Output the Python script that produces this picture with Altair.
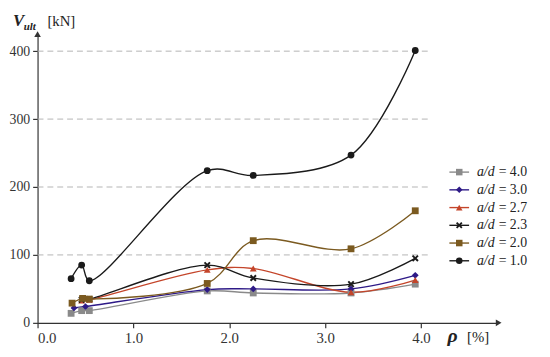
import altair as alt
import pandas as pd

# ---- data ----
series = ["a/d = 4.0", "a/d = 3.0", "a/d = 2.7", "a/d = 2.3", "a/d = 2.0", "a/d = 1.0"]
series_value = ["= 4.0", "= 3.0", "= 2.7", "= 2.3", "= 2.0", "= 1.0"]

rho_40 = [0.35, 0.46, 0.54, 1.77, 2.25, 3.27, 3.94]
v_40 = [14, 18, 18, 47, 44, 44, 57]
rho_30 = [0.38, 0.50, 1.77, 2.25, 3.27, 3.94]
v_30 = [22, 24, 49, 50, 50, 70]
rho_27 = [0.46, 0.54, 1.77, 2.25, 3.27, 3.94]
v_27 = [33, 34, 78, 80, 45, 63]
rho_23 = [0.46, 0.54, 1.77, 2.25, 3.27, 3.94]
v_23 = [34, 35, 85, 66, 57, 95]
rho_20 = [0.36, 0.47, 0.54, 1.77, 2.25, 3.27, 3.94]
v_20 = [29, 36, 35, 58, 121, 109, 165]
rho_10 = [0.35, 0.46, 0.54, 1.77, 2.25, 3.27, 3.94]
v_10 = [65, 85, 62, 224, 217, 247, 401]

x_ticks = [0, 1, 2, 3, 4]
y_ticks = [0, 100, 200, 300, 400]
grid_values = [100, 200, 300, 400]

# ---- styles ----
colors = ["#8a8a8a", "#2e1a87", "#c4452a", "#1a1a1a", "#7b5a20", "#1a1a1a"]
X_PATH = ("M-1,-0.6L-0.6,-1L0,-0.4L0.6,-1L1,-0.6L0.4,0L1,0.6L0.6,1L0,0.4"
          "L-0.6,1L-1,0.6L-0.4,0Z")
shapes = ["square", "diamond", "triangle-up", X_PATH, "square", "circle"]
FONT = "Liberation Serif"

X_MAX, Y_MAX = 4.81, 425
W, H = 468, 293

rows = []
for s, xs, ys in zip(series,
                     [rho_40, rho_30, rho_27, rho_23, rho_20, rho_10],
                     [v_40, v_30, v_27, v_23, v_20, v_10]):
    for x, y in zip(xs, ys):
        rows.append({"series": s, "rho": x, "V": y})
df = pd.DataFrame(rows)

x_scale = alt.Scale(domain=[0, X_MAX], nice=False, zero=True)
y_scale = alt.Scale(domain=[0, Y_MAX], nice=False, zero=True)
color_scale = alt.Scale(domain=series, range=colors)
shape_scale = alt.Scale(domain=series, range=shapes)

x_axis = alt.Axis(values=x_ticks, format=".1f", grid=False, title=None,
                  domainColor="#333", domainWidth=1.2, tickColor="#333",
                  tickWidth=1.2, tickSize=5, labelFont=FONT, labelFontSize=15,
                  labelColor="#333", labelPadding=3)
y_axis = alt.Axis(values=y_ticks, grid=False, title=None,
                  domainColor="#333", domainWidth=1.2, tickColor="#333",
                  tickWidth=1.2, tickSize=5, labelFont=FONT, labelFontSize=14,
                  labelColor="#333", labelPadding=3)

grid = alt.Chart(pd.DataFrame({"v": grid_values})).mark_rule(
    color="#b4b4b4", strokeDash=[6, 4], strokeWidth=1
).encode(
    y=alt.Y("v:Q", scale=y_scale, axis=y_axis),
    x=alt.X(datum=0, scale=x_scale, axis=x_axis),
    x2=alt.X2(datum=4.1),
)

lines = alt.Chart(df).mark_line(interpolate="catmull-rom", strokeWidth=1.4).encode(
    x=alt.X("rho:Q", scale=x_scale, axis=x_axis),
    y=alt.Y("V:Q", scale=y_scale, axis=y_axis),
    color=alt.Color("series:N", scale=color_scale, legend=None),
    detail="series:N",
)

points = alt.Chart(df).mark_point(filled=True, size=48, opacity=1).encode(
    x=alt.X("rho:Q", scale=x_scale, axis=x_axis),
    y=alt.Y("V:Q", scale=y_scale, axis=y_axis),
    color=alt.Color("series:N", scale=color_scale, legend=None),
    shape=alt.Shape("series:N", scale=shape_scale, legend=None),
)

dummy = pd.DataFrame({"d": [0]})
arrow_x = alt.Chart(dummy).mark_point(shape="triangle-right", filled=True,
                                       size=45, color="#333", opacity=1).encode(
    x=alt.X(datum=X_MAX, scale=x_scale, axis=x_axis),
    y=alt.Y(datum=0, scale=y_scale, axis=y_axis),
)
arrow_y = alt.Chart(dummy).mark_point(shape="triangle-up", filled=True,
                                       size=45, color="#333", opacity=1).encode(
    x=alt.X(datum=0, scale=x_scale, axis=x_axis),
    y=alt.Y(datum=Y_MAX, scale=y_scale, axis=y_axis),
)


def label(txt, x, y, size, style="normal", weight="normal", align="left"):
    return alt.Chart(dummy).mark_text(
        text=txt, font=FONT, fontSize=size, fontStyle=style, fontWeight=weight,
        align=align, baseline="alphabetic", color="#222"
    ).encode(x=alt.value(x), y=alt.value(y))


titles = [
    label("V", -25, -8, 17, "italic", "bold"),
    label("ult", -14, -4, 11, "italic", "bold"),
    label("[kN]", 10, -8, 15),
    label("ρ", 416, 312, 20, "italic", "bold"),
    label("[%]", 436, 312, 15),
]

main = alt.layer(grid, lines, points, arrow_x, arrow_y, *titles)

# ---- legend (built from the series lists) ----
leg = pd.DataFrame({"series": series, "pos": list(range(len(series))),
                    "val": series_value})
LX, TX = 428, 446
ly = alt.Y("pos:Q", scale=alt.Scale(domain=[0, len(series) - 1], range=[140, 230]),
           axis=None)
leg_line = alt.Chart(leg).mark_rule(strokeWidth=1.4).encode(
    x=alt.value(LX - 10), x2=alt.value(LX + 10), y=ly,
    color=alt.Color("series:N", scale=color_scale, legend=None),
)
leg_pt = alt.Chart(leg).mark_point(filled=True, size=44, opacity=1).encode(
    x=alt.value(LX), y=ly,
    color=alt.Color("series:N", scale=color_scale, legend=None),
    shape=alt.Shape("series:N", scale=shape_scale, legend=None),
)
leg_ad = alt.Chart(leg).mark_text(
    text="a/d", font=FONT, fontSize=14, fontStyle="italic", align="left",
    baseline="middle", color="#222"
).encode(x=alt.value(TX), y=ly)
leg_val = alt.Chart(leg).mark_text(
    font=FONT, fontSize=14, align="left", baseline="middle", color="#222"
).encode(x=alt.value(TX + 22), y=ly, text="val:N")

legend = alt.layer(leg_line, leg_pt, leg_ad, leg_val)

chart = alt.layer(main, legend).resolve_scale(y="independent").properties(
    width=W, height=H,
    autosize=alt.AutoSizeParams(type="none"),
    padding={"left": 30, "top": 24, "right": 44, "bottom": 26},
).configure_view(stroke=None)

chart.save("out.html", embed_options={"renderer": "svg", "actions": False})
